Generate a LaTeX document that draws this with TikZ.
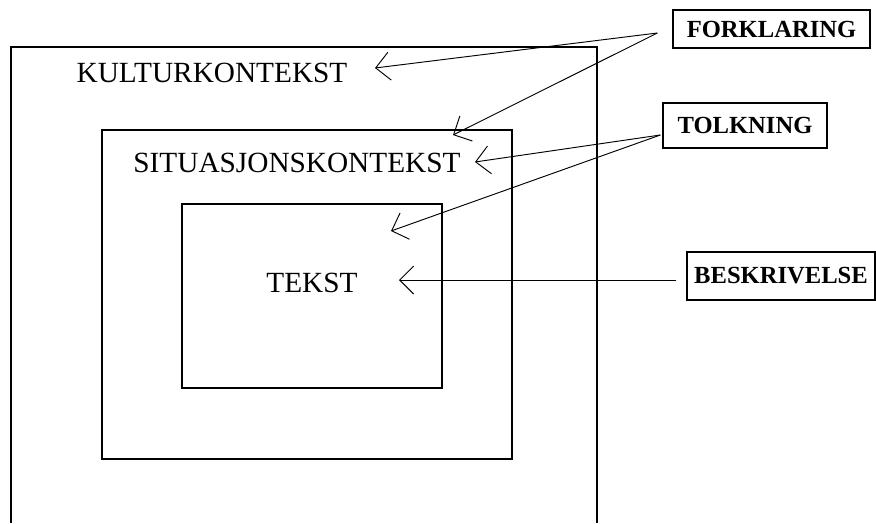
\documentclass[tikz,border=0pt]{standalone}
\usepackage{fontspec}
\setmainfont{Liberation Serif}
\usetikzlibrary{arrows.meta}

\tikzset{
  ctx/.style={font=\fontsize{25}{25}\selectfont, inner sep=0pt},
  lab/.style={draw, line width=1.1pt, inner sep=0pt,
              font=\fontsize{21}{21}\selectfont\bfseries},
  pil/.style={line width=0.8pt, -{Straight Barb[length=0.42cm, width=0.84cm]}},
}

\begin{document}
\begin{tikzpicture}[x=0.03cm, y=-0.03cm]
    \useasboundingbox (0,0) rectangle (876,523);

    % the three contexts
    \draw[line width=1.1pt] (11,523) |- (597,47) -- (597,523);
    \draw[line width=1.1pt] (102,130) rectangle (512,459);
    \draw[line width=1.1pt] (182,204) rectangle (442,388);

    \node[ctx](kultur) at (212,73) {KULTURKONTEKST};
    \node[ctx](sit) at (297,163) {SITUASJONSKONTEKST};
    \node[ctx](tekst) at (312,283) {TEKST};

    % labels on the right
    \node[lab, minimum width=5.91cm, minimum height=1.14cm](forkl) at (771.5,29) {FORKLARING};
    \node[lab, minimum width=4.92cm, minimum height=1.35cm](tolk) at (745,125.5) {TOLKNING};
    \node[lab, minimum width=5.64cm, minimum height=1.44cm](beskr) at (781,276) {BESKRIVELSE};

    \coordinate(k1) at (375,68);
    \coordinate(s1) at (453,135);
    \coordinate(s2) at (475,162);
    \coordinate(t1) at (391,231);
    \coordinate(t2) at (399,280);

    \draw[pil] ([shift={(-15,4)}]forkl.west) -- (k1);
    \draw[pil] ([shift={(-15,4)}]forkl.west) -- (s1);
    \draw[pil] ([shift={(-2,9.5)}]tolk.west) -- (s2);
    \draw[pil] ([shift={(-2,9.5)}]tolk.west) -- (t1);
    \draw[pil] ([shift={(-10,4)}]beskr.west) -- (t2);
\end{tikzpicture}
\end{document}
